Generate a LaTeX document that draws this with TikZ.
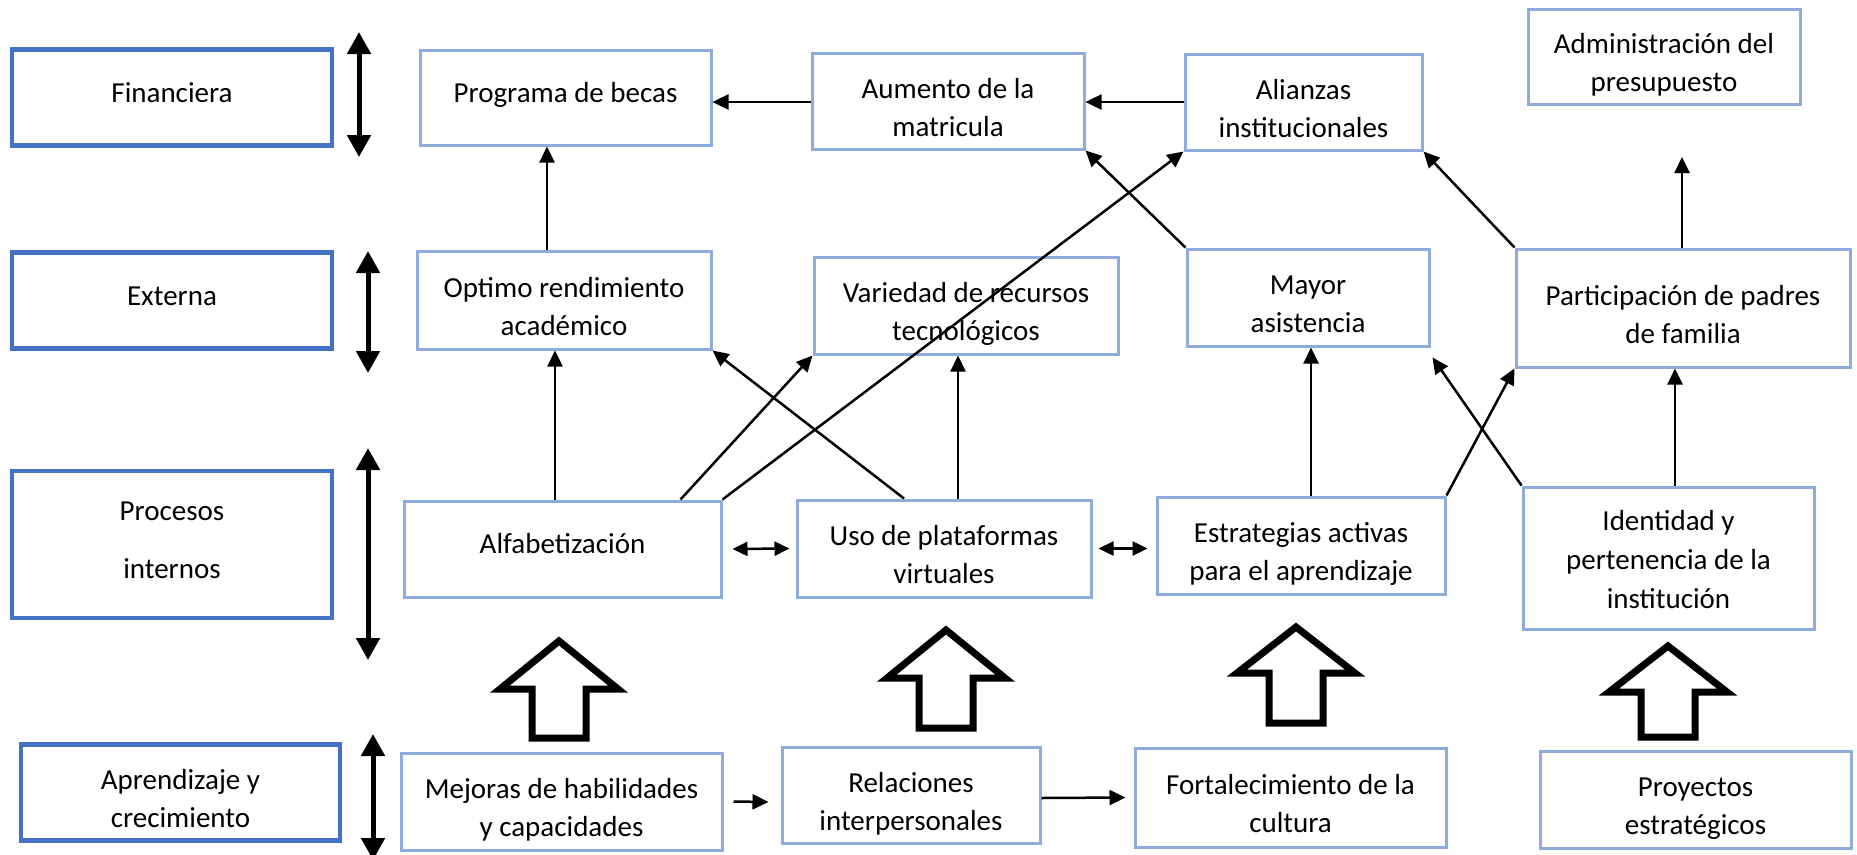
\documentclass[tikz,border=0pt]{standalone}
\usepackage{fontspec}
\setmainfont{Carlito}
\usetikzlibrary{arrows.meta}
\definecolor{perspectiveblue}{HTML}{4472C4}
\definecolor{goalblue}{HTML}{8FAADC}
\tikzset{
	perspective/.style={draw=perspectiveblue, line width=4.5pt, minimum width=320pt, minimum height=96pt, inner sep=0pt, align=center, font=\fontsize{29}{38}\selectfont},
	goal/.style={draw=goalblue, line width=3pt, inner sep=0pt, align=center, font=\fontsize{29}{38}\selectfont},
	oneline/.style={text height=15pt, text depth=6pt},
	twoline/.style={text height=76pt, text depth=6pt},
	threeline/.style={text height=106pt, text depth=6pt, font=\fontsize{29}{39}\selectfont},
	link/.style={-{Triangle[length=16pt,width=15pt]}, line width=2.5pt},
	twolink/.style={{Triangle[length=15pt,width=14pt]}-{Triangle[length=15pt,width=14pt]}, line width=2.5pt},
	levelarrow/.style={{Triangle[length=22pt,width=23pt]}-{Triangle[length=22pt,width=23pt]}, line width=5pt},
	blockarrow/.style={draw=black, line width=7pt, miter limit=10}
}
% x, tip y, head y, bottom y
\newcommand{\drawblockarrow}[4]{
	\draw[blockarrow] (#1, #2) -- (#1 + 59, #3) -- (#1 + 27, #3) -- (#1 + 27, #4) -- (#1 - 27, #4) -- (#1 - 27, #3) -- (#1 - 59, #3) -- cycle;
}
% x, top y, bottom y
\newcommand{\drawlevelarrow}[3]{
	\draw[levelarrow] (#1, #2) -- (#1, #3);
}

\begin{document}
\begin{tikzpicture}[x=1pt, y=-1pt]
\useasboundingbox (0, 0) rectangle (1857, 854);

% perspectives
\node[perspective, oneline] (fin) at (172, 97.5) {Financiera};
\node[perspective, oneline] (ext) at (172, 300.5) {Externa};
\node[perspective, minimum height=147pt, text height=73pt, text depth=6pt, font=\fontsize{29}{58}\selectfont] (proc) at (172, 544.5) {Procesos\\internos};
\node[perspective, twoline, minimum width=319pt] (apr) at (180.5, 792.5) {Aprendizaje y\\crecimiento};

\drawlevelarrow{359}{32}{157}
\drawlevelarrow{368}{251}{373}
\drawlevelarrow{368}{448}{660}
\drawlevelarrow{373}{734}{860}

% financiera
\node[goal, oneline, minimum width=291pt, minimum height=95pt] (becas) at (565.5, 97.5) {Programa de becas};
\node[goal, twoline, minimum width=272pt, minimum height=96pt] (aum) at (948, 101) {Aumento de la\\matricula};
\node[goal, twoline, minimum width=237pt, minimum height=96pt] (ali) at (1303.5, 102) {Alianzas\\institucionales};
\node[goal, twoline, minimum width=272pt, minimum height=95pt] (adm) at (1664, 56.5) {Administración del\\presupuesto};

% externa
\node[goal, twoline, minimum width=294pt, minimum height=98pt] (opt) at (564, 300) {Optimo rendimiento\\académico};
\node[goal, twoline, minimum width=304pt, minimum height=97pt] (var) at (966, 305.5) {Variedad de recursos\\tecnológicos};
\node[goal, twoline, minimum width=242pt, minimum height=97pt] (may) at (1308, 297.5) {Mayor\\asistencia};
\node[goal, twoline, minimum width=334pt, minimum height=118pt] (par) at (1683, 308) {Participación de padres\\de familia};

% procesos internos
\node[goal, oneline, minimum width=317pt, minimum height=96pt] (alf) at (562.5, 549) {Alfabetización};
\node[goal, twoline, minimum width=294pt, minimum height=97pt] (uso) at (944, 548.5) {Uso de plataformas\\virtuales};
\node[goal, twoline, minimum width=288pt, minimum height=97pt] (est) at (1301, 545.5) {Estrategias activas\\para el aprendizaje};
\node[goal, threeline, minimum width=291pt, minimum height=142pt] (ide) at (1668.5, 558) {Identidad y\\pertenencia de la\\institución};

% aprendizaje
\node[goal, twoline, minimum width=321pt, minimum height=97pt] (mej) at (561.5, 801.5) {Mejoras de habilidades\\y capacidades};
\node[goal, twoline, minimum width=258pt, minimum height=96pt] (rel) at (911, 795) {Relaciones\\interpersonales};
\node[goal, twoline, minimum width=311pt, minimum height=99pt] (fort) at (1290.5, 797.5) {Fortalecimiento de la\\cultura};
\node[goal, twoline, minimum width=311pt, minimum height=97pt] (proy) at (1695.5, 799.5) {Proyectos\\estratégicos};

\coordinate (budget) at (1682, 157);

% links
\draw[link] ([yshift=-1pt]aum.west) -- ([yshift=-4.5pt]becas.east);
\draw[link] (ali.west) -- ([yshift=-1pt]aum.east);
\draw[link] ([xshift=-17pt]opt.north) -- ([xshift=-18.5pt]becas.south);
\draw[link] ([xshift=-7.5pt]alf.north) -- ([xshift=-9pt]opt.south);
\draw[link] ([xshift=118pt]alf.north) -- (var.south west);
\draw[link] (alf.north east) -- (ali.south west);
\draw[link] ([xshift=-40pt]uso.north) -- (opt.south east);
\draw[link] ([xshift=14pt]uso.north) -- ([xshift=-8pt]var.south);
\draw[link] (may.north west) -- (aum.south east);
\draw[link] ([xshift=10pt]est.north) -- ([xshift=3pt]may.south);
\draw[link] (est.north east) -- (par.south west);
\draw[link] (ide.north west) -- ([xshift=2pt, yshift=-10pt]may.south east);
\draw[link] (par.north west) -- (ali.south east);
\draw[link] ([xshift=-1pt]par.north) -- (budget);
\draw[link] ([xshift=6.5pt]ide.north) -- ([xshift=-8pt]par.south);

\draw[twolink] ([xshift=10pt]alf.east) -- ([xshift=-6pt]uso.west);
\draw[twolink] ([xshift=6pt]uso.east) -- ([xshift=-8pt, yshift=-3pt]est.west);
\draw[link] ([xshift=10pt]mej.east) -- ([xshift=-12pt, yshift=-7pt]rel.west);
\draw[link] ([yshift=-3pt]rel.east) -- ([xshift=-8pt]fort.west);

% block arrows
\drawblockarrow{559}{641}{689}{738}
\drawblockarrow{946}{630}{678}{728}
\drawblockarrow{1296}{627}{673}{723}
\drawblockarrow{1668}{646}{692}{737}
\end{tikzpicture}
\end{document}
